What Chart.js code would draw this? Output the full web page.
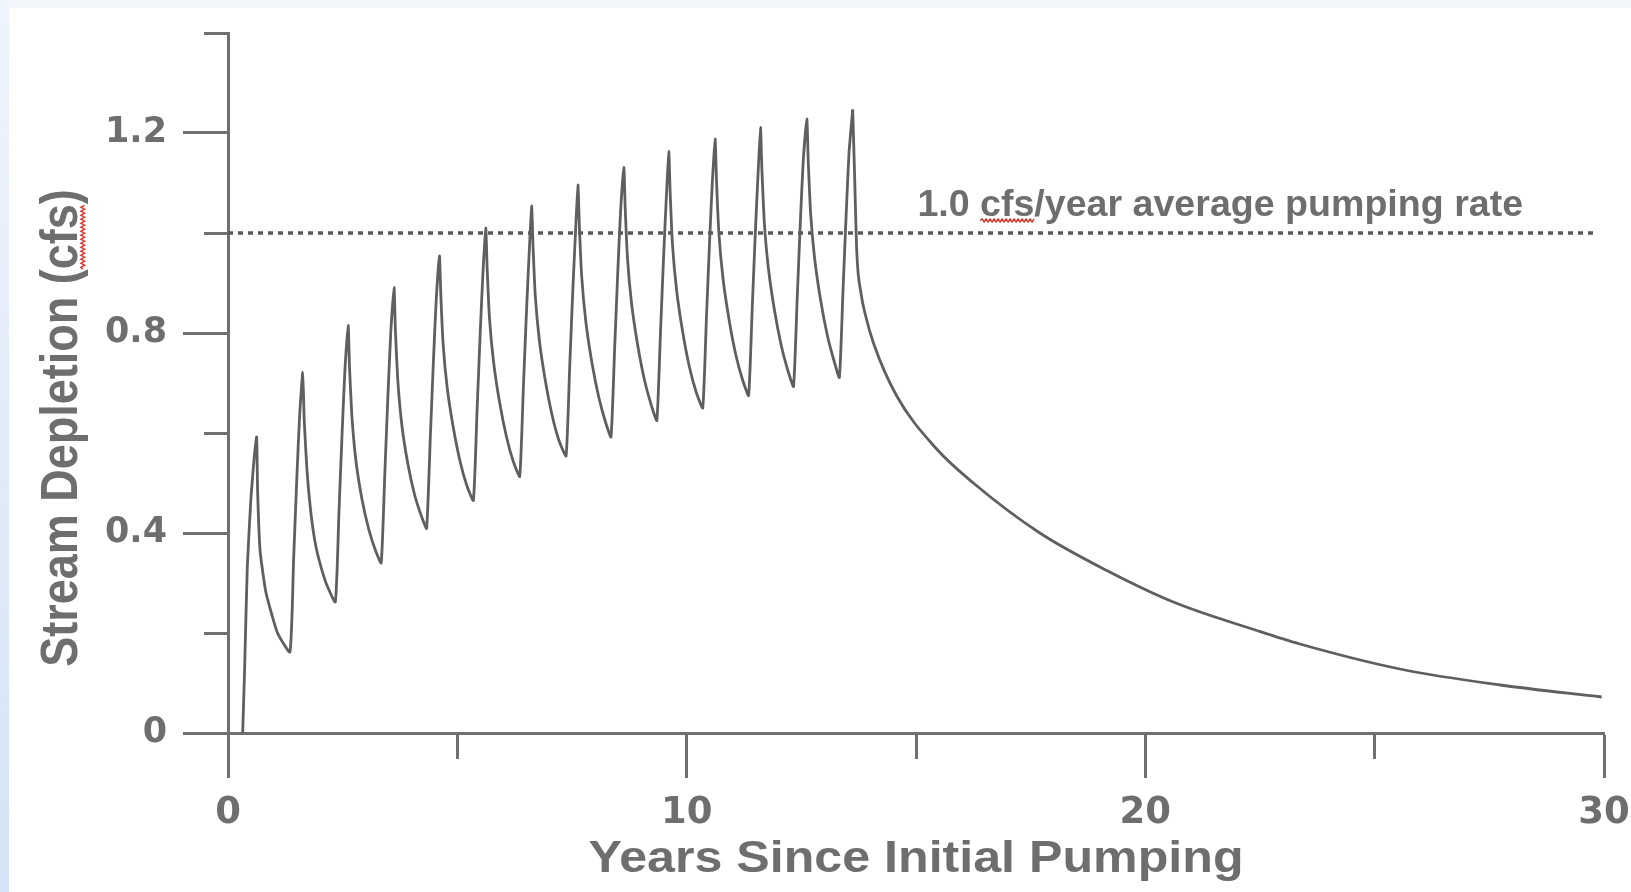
<!DOCTYPE html>
<html>
<head>
<meta charset="utf-8">
<title>Stream Depletion</title>
<script src="https://cdn.jsdelivr.net/npm/chart.js@4.4.1/dist/chart.umd.min.js"></script>
<style>
    html, body { margin: 0; padding: 0; }
    body { width: 1631px; height: 892px; overflow: hidden; position: relative; background: #f3f7fc; }
    #strip { position: absolute; left: 0; top: 0; width: 9px; height: 892px; background: linear-gradient(to bottom, #eef4fb, #d4e3f5); }
    #paper { position: absolute; left: 9px; top: 8px; right: 0; bottom: 0; background: #fff; }
    #chart-box { position: absolute; left: 0; top: 0; width: 1631px; height: 892px; }
</style>
</head>
<body>
<div id="strip"></div>
<div id="paper"></div>
<div id="chart-box"><canvas id="depletionChart"></canvas></div>
<script>
/* --- Data --- */
// pumping seasons: depletion climbs each season, then decays until the next one
const cycleYears = [
    0.32, 0.36, 0.42, 0.50, 0.58, 0.625, 0.645, 0.70, 0.825, 1.075, 1.35,
    1.43, 1.50, 1.56, 1.63, 1.66, 1.72, 1.80, 1.90, 2.01, 2.15, 2.34,
    2.42, 2.49, 2.55, 2.62, 2.65, 2.70, 2.79, 2.92, 3.07, 3.22, 3.34,
    3.42, 3.49, 3.55, 3.62, 3.65, 3.70, 3.79, 3.92, 4.07, 4.22, 4.33,
    4.41, 4.48, 4.54, 4.61, 4.64, 4.69, 4.78, 4.91, 5.06, 5.21, 5.35,
    5.43, 5.50, 5.56, 5.62, 5.65, 5.70, 5.79, 5.92, 6.07, 6.22, 6.36,
    6.44, 6.51, 6.57, 6.62, 6.65, 6.70, 6.79, 6.92, 7.07, 7.22, 7.37,
    7.45, 7.52, 7.58, 7.63, 7.66, 7.71, 7.80, 7.93, 8.08, 8.23, 8.35,
    8.43, 8.50, 8.56, 8.63, 8.66, 8.71, 8.80, 8.93, 9.08, 9.23, 9.35,
    9.43, 9.50, 9.56, 9.61, 9.64, 9.69, 9.78, 9.91, 10.06, 10.21, 10.35,
    10.43, 10.50, 10.56, 10.62, 10.65, 10.70, 10.79, 10.92, 11.07, 11.22, 11.35,
    11.43, 11.50, 11.56, 11.61, 11.64, 11.69, 11.78, 11.91, 12.06, 12.21, 12.33,
    12.41, 12.48, 12.54, 12.62, 12.65, 12.70, 12.79, 12.92, 13.07, 13.22, 13.33,
    13.41, 13.48, 13.54, 13.62
];
const cycleCfs = [
    0.000, 0.120, 0.330, 0.470, 0.560, 0.592, 0.485, 0.364, 0.282, 0.201, 0.162,
    0.346, 0.509, 0.632, 0.721, 0.629, 0.528, 0.446, 0.381, 0.338, 0.297, 0.262,
    0.444, 0.605, 0.727, 0.815, 0.730, 0.635, 0.544, 0.468, 0.407, 0.364, 0.340,
    0.522, 0.682, 0.803, 0.891, 0.804, 0.708, 0.616, 0.539, 0.476, 0.433, 0.409,
    0.589, 0.747, 0.867, 0.954, 0.876, 0.778, 0.690, 0.612, 0.543, 0.494, 0.465,
    0.645, 0.803, 0.923, 1.010, 0.930, 0.831, 0.742, 0.662, 0.593, 0.543, 0.513,
    0.692, 0.848, 0.967, 1.054, 0.974, 0.874, 0.784, 0.704, 0.634, 0.584, 0.554,
    0.733, 0.890, 1.009, 1.096, 1.015, 0.915, 0.824, 0.743, 0.673, 0.622, 0.592,
    0.770, 0.926, 1.045, 1.131, 1.050, 0.949, 0.858, 0.777, 0.706, 0.655, 0.625,
    0.803, 0.959, 1.077, 1.163, 1.081, 0.978, 0.886, 0.804, 0.732, 0.681, 0.650,
    0.828, 0.984, 1.102, 1.188, 1.106, 1.003, 0.911, 0.829, 0.757, 0.706, 0.675,
    0.852, 1.007, 1.125, 1.211, 1.128, 1.025, 0.931, 0.848, 0.776, 0.724, 0.693,
    0.870, 1.025, 1.142, 1.228, 1.145, 1.042, 0.949, 0.866, 0.794, 0.742, 0.711,
    0.888, 1.043, 1.161, 1.247
];

// after pumping stops (starts at the last peak)
const recoveryYears = [13.62, 13.66, 13.71, 13.80, 13.90, 14.08, 14.58, 15.43, 16.25, 17.70, 19.16, 20.61, 22.43, 23.37, 25.55, 27.73, 29.95];
const recoveryCfs   = [1.247, 1.120, 0.960, 0.880, 0.835, 0.778, 0.674, 0.570, 0.500, 0.400, 0.325, 0.262, 0.205, 0.178, 0.128, 0.096, 0.072];

// dotted reference line
const avgRateYears = [0, 29.8];
const avgRateCfs = [1.0, 1.0];

const xTickLabels = [0, 10, 20, 30];
const yTickLabels = [0, 0.4, 0.8, 1.2];

const xTitle = 'Years Since Initial Pumping';
const yTitle = 'Stream Depletion (cfs)';
const noteText = '1.0 cfs/year average pumping rate';
const noteAt = { x: 15.03, y: 1.035 };

/* --- Styles --- */
const AXIS = '#707070';
const TEXT = '#6e6e6e';
const LINE = '#5f5f5f';
const TITLE_FONT = '"Liberation Sans", Arial, sans-serif';

const oneDecimal = v => Math.round(v * 10) / 10;
const isMajorY = v => yTickLabels.includes(oneDecimal(v));
const toPoints = (xs, ys) => xs.map((x, i) => ({ x, y: ys[i] }));

// red spell-check wave under "cfs"
function squiggle(ctx, x0, x1, y) {
    ctx.save();
    ctx.strokeStyle = '#e0261c';
    ctx.lineWidth = 1.3;
    ctx.beginPath();
    ctx.moveTo(x0, y);
    let up = true;
    for (let x = x0 + 2; x <= x1; x += 2) {
        ctx.lineTo(x, up ? y - 1.6 : y + 1.6);
        up = !up;
    }
    ctx.stroke();
    ctx.restore();
}

const figureText = {
    id: 'figureText',
    afterDraw(chart) {
        const { ctx, chartArea, scales } = chart;
        ctx.save();
        ctx.fillStyle = TEXT;
        ctx.textBaseline = 'alphabetic';

        // annotation above the dotted line
        ctx.font = 'bold 37.6px ' + TITLE_FONT;
        ctx.textAlign = 'left';
        const nx = scales.x.getPixelForValue(noteAt.x);
        const ny = scales.y.getPixelForValue(noteAt.y);
        ctx.fillText(noteText, nx, ny);
        squiggle(ctx, nx + ctx.measureText('1.0 ').width, nx + ctx.measureText('1.0 cfs').width, ny + 5);

        // x title
        ctx.save();
        ctx.font = 'bold 44px ' + TITLE_FONT;
        ctx.translate((chartArea.left + chartArea.right) / 2, 872);
        ctx.scale(1.14, 1);
        ctx.textAlign = 'center';
        ctx.fillText(xTitle, 0, 0);
        ctx.restore();

        // y title
        ctx.save();
        ctx.font = 'bold 45px ' + TITLE_FONT;
        ctx.translate(77, 428);
        ctx.scale(1.15, 1);
        ctx.rotate(-Math.PI / 2);
        ctx.textAlign = 'center';
        ctx.fillText(yTitle, 0, 0);
        const w = ctx.measureText(yTitle).width;
        squiggle(ctx,
            -w / 2 + ctx.measureText('Stream Depletion (').width,
            -w / 2 + ctx.measureText('Stream Depletion (cfs').width, 5);
        ctx.restore();

        ctx.restore();
    }
};

new Chart(document.getElementById('depletionChart'), {
    type: 'line',
    data: {
        datasets: [
            {
                label: 'Stream depletion (pumping)',
                data: toPoints(cycleYears, cycleCfs),
                borderColor: LINE,
                borderWidth: 2.8,
                pointRadius: 0,
                tension: 0.15,
                fill: false
            },
            {
                label: 'Stream depletion (recovery)',
                data: toPoints(recoveryYears, recoveryCfs),
                borderColor: LINE,
                borderWidth: 2.8,
                pointRadius: 0,
                cubicInterpolationMode: 'monotone',
                fill: false
            },
            {
                label: 'Average pumping rate',
                data: toPoints(avgRateYears, avgRateCfs),
                borderColor: '#585858',
                borderWidth: 3.5,
                borderDash: [5, 5],
                pointRadius: 0,
                fill: false
            }
        ]
    },
    options: {
        responsive: true,
        maintainAspectRatio: false,
        animation: false,
        layout: { padding: { top: 33, right: 27, left: 0, bottom: 0 } },
        plugins: {
            legend: { display: false },
            tooltip: { enabled: false }
        },
        scales: {
            x: {
                type: 'linear',
                min: 0,
                max: 30,
                afterFit: scale => {
                    scale.height = 159;
                    scale.paddingLeft = 0;
                    scale.paddingRight = 0;
                },
                border: { display: true, color: AXIS, width: 3 },
                grid: {
                    drawOnChartArea: false,
                    tickLength: 45,
                    tickColor: AXIS,
                    tickWidth: 3,
                    // short ticks at 5, 15, 25
                    tickBorderDash: c => xTickLabels.includes(c.tick.value) ? [] : [24, 100]
                },
                ticks: {
                    stepSize: 5,
                    autoSkip: false,
                    maxRotation: 0,
                    padding: 13,
                    color: TEXT,
                    font: { family: 'DejaVu Sans', weight: 'bold', size: 37 },
                    callback: v => xTickLabels.includes(v) ? String(v) : ''
                }
            },
            y: {
                min: 0,
                max: 1.4,
                afterFit: scale => {
                    scale.width = 228;
                    scale.paddingTop = 0;
                    scale.paddingBottom = 0;
                },
                border: { display: true, color: AXIS, width: 3 },
                grid: {
                    drawOnChartArea: false,
                    tickLength: 45,
                    tickColor: AXIS,
                    tickWidth: 3,
                    // short ticks at 0.2, 0.6, 1.0, 1.4 (drawn from the axis side)
                    tickBorderDash: c => isMajorY(c.tick.value) ? [] : [24, 100],
                    tickBorderDashOffset: c => isMajorY(c.tick.value) ? 0 : 103
                },
                ticks: {
                    stepSize: 0.2,
                    autoSkip: false,
                    padding: 16,
                    color: TEXT,
                    font: { family: 'DejaVu Sans', weight: 'bold', size: 35 },
                    callback: v => isMajorY(v) ? String(oneDecimal(v)) : ''
                }
            }
        }
    },
    plugins: [figureText]
});
</script>
</body>
</html>
